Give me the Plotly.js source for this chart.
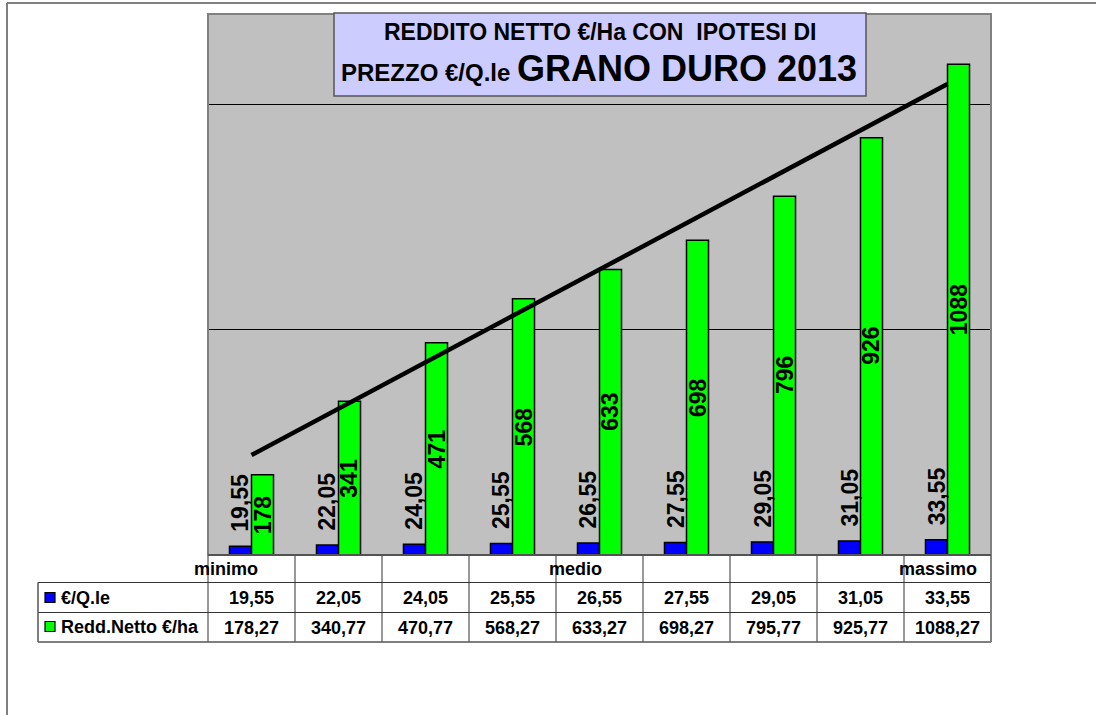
<!DOCTYPE html>
<html>
<head>
<meta charset="utf-8">
<script src="https://cdn.plot.ly/plotly-3.0.1.min.js"></script>
<style>html,body{margin:0;padding:0;background:#fff;}#chart{width:1096px;height:715px;}</style>
</head>
<body>
<div id="chart"></div>
<script>
// ---- data ----
const categories = ['minimo', '', '', '', 'medio', '', '', '', 'massimo'];
const prezzo = [19.55, 22.05, 24.05, 25.55, 26.55, 27.55, 29.05, 31.05, 33.55];
const reddito = [178.27, 340.77, 470.77, 568.27, 633.27, 698.27, 795.77, 925.77, 1088.27];
const seriesNames = ['€/Q.le', 'Redd.Netto €/ha'];
const titleLine1 = 'REDDITO NETTO €/Ha CON  IPOTESI DI';
const titleLine2a = 'PREZZO €/Q.le';
const titleLine2b = 'GRANO DURO 2013';

// ---- layout constants (pixels) ----
const W = 1096, H = 715;
const PL = 208, PR = 991, PT = 14, PB = 555;
const pw = PR - PL, ph = PB - PT;
const X = p => (p - PL) / pw;
const Y = p => (PB - p) / ph;
const FONT = 'Liberation Sans, Arial, sans-serif';
const catLabelShift = [-26, 0, 0, 0, -24, 0, 0, 0, -10];
const colW = pw / categories.length;

const idx = categories.map((c, i) => i);
const fmt2 = v => v.toFixed(2).replace('.', ',');

// linear trendline (least squares) on the net income series
const n = reddito.length;
const mx = idx.reduce((a, b) => a + b, 0) / n;
const my = reddito.reduce((a, b) => a + b, 0) / n;
let sxy = 0, sxx = 0;
idx.forEach((x, i) => { sxy += (x - mx) * (reddito[i] - my); sxx += (x - mx) * (x - mx); });
const slope = sxy / sxx;
const trend = idx.map(x => my + slope * (x - mx));

const traces = [
  {type: 'bar', x: idx, y: prezzo, name: seriesNames[0],
   marker: {color: '#0000FF', line: {color: '#000', width: 1.5}}, hoverinfo: 'none'},
  {type: 'bar', x: idx, y: reddito, name: seriesNames[1],
   marker: {color: '#00FF00', line: {color: '#000', width: 1.5}}, hoverinfo: 'none'},
  {type: 'scatter', mode: 'lines', x: idx, y: trend, line: {color: '#000', width: 4.5},
   hoverinfo: 'none', showlegend: false}
];

const shapes = [];
const annotations = [];
const line = (x0, y0, x1, y1, color, width) => shapes.push({type: 'line', xref: 'paper', yref: 'paper',
  x0: X(x0), y0: Y(y0), x1: X(x1), y1: Y(y1), line: {color: color, width: width}});

// outer frame
line(7, 3, W + 5, 3, '#808080', 2);
line(7, 3, 7, H + 5, '#808080', 2);

// table
const rowY = [PB, 582.5, 612.5, 642];
for (let k = 1; k < categories.length; k++) line(PL + k * colW, PB, PL + k * colW, rowY[3], '#333', 1);
line(PL, PB, PL, rowY[3], '#333', 1);
line(38, rowY[1], PR, rowY[1], '#333', 1);
line(38, rowY[2], PR, rowY[2], '#333', 1);
line(38, rowY[3], PR, rowY[3], '#555', 1.5);
line(38, rowY[1], 38, rowY[3], '#555', 1.5);
line(PR, PB, PR, rowY[3], '#808080', 2);

// plot border
shapes.push({type: 'rect', xref: 'paper', yref: 'paper', x0: 0, y0: 0, x1: 1, y1: 1,
  line: {color: '#808080', width: 2}});
line(PL, PB, PR, PB, '#444', 1.5);

// legend keys
const keyColors = ['#0000FF', '#00FF00'];
[597.5, 626.5].forEach((cy, i) => {
  shapes.push({type: 'rect', xref: 'paper', yref: 'paper', x0: X(45), x1: X(55), y0: Y(cy - 5), y1: Y(cy + 5),
    fillcolor: keyColors[i], line: {color: '#000', width: 1.2}});
  annotations.push({xref: 'paper', yref: 'paper', x: X(59), y: Y(cy), xanchor: 'left', yanchor: 'middle',
    text: '<b>' + seriesNames[i] + '</b>', showarrow: false, font: {family: FONT, size: 18, color: '#000'}});
});

// title box
shapes.push({type: 'rect', xref: 'paper', yref: 'paper', x0: X(334), x1: X(866), y0: Y(96), y1: Y(13),
  fillcolor: '#CCCCFF', line: {color: '#555', width: 1.5}});
annotations.push({xref: 'paper', yref: 'paper', x: X(600), y: Y(32), xanchor: 'center', yanchor: 'middle',
  text: '<b>' + titleLine1 + '</b>', showarrow: false, font: {family: FONT, size: 23, color: '#000'}});
annotations.push({xref: 'paper', yref: 'paper', x: X(599), y: Y(68), xanchor: 'center', yanchor: 'middle',
  text: '<b>' + titleLine2a + ' <span style="font-size:36px">' + titleLine2b + '</span></b>', showarrow: false,
  font: {family: FONT, size: 24, color: '#000'}});

// table texts
const cellFont = {family: FONT, size: 18, color: '#000'};
categories.forEach((c, i) => {
  if (c) annotations.push({xref: 'x', yref: 'paper', x: i, y: Y(569), xshift: catLabelShift[i],
    xanchor: 'center', yanchor: 'middle', text: '<b>' + c + '</b>', showarrow: false, font: cellFont});
  annotations.push({xref: 'x', yref: 'paper', x: i, y: Y(597.5), xanchor: 'center', yanchor: 'middle',
    text: '<b>' + fmt2(prezzo[i]) + '</b>', showarrow: false, font: cellFont});
  annotations.push({xref: 'x', yref: 'paper', x: i, y: Y(627.5), xanchor: 'center', yanchor: 'middle',
    text: '<b>' + fmt2(reddito[i]) + '</b>', showarrow: false, font: cellFont});
});

// data labels
const lblFont = {family: FONT, size: 23, color: '#000'};
idx.forEach(i => {
  annotations.push({xref: 'x', yref: 'y', x: i, y: prezzo[i], xshift: -11, yshift: 12,
    xanchor: 'center', yanchor: 'bottom', textangle: -90, text: '<b>' + fmt2(prezzo[i]) + '</b>',
    showarrow: false, font: lblFont});
  annotations.push({xref: 'x', yref: 'y', x: i, y: reddito[i] / 2, xshift: 11,
    xanchor: 'center', yanchor: 'middle', textangle: -90, text: '<b>' + Math.round(reddito[i]) + '</b>',
    showarrow: false, font: lblFont});
});

const layout = {
  width: W, height: H,
  margin: {l: PL, r: W - PR, t: PT, b: H - PB, pad: 0},
  paper_bgcolor: '#FFFFFF', plot_bgcolor: '#C0C0C0',
  showlegend: false, barmode: 'group', bargap: 0.494, bargroupgap: 0,
  font: {family: FONT},
  xaxis: {range: [-0.5, categories.length - 0.5], showticklabels: false, showgrid: false,
    zeroline: false, ticks: '', fixedrange: true},
  yaxis: {range: [0, 1200], tickvals: [0, 500, 1000], showticklabels: false, showgrid: true,
    gridcolor: '#000', gridwidth: 1, zeroline: false, ticks: '', fixedrange: true},
  shapes: shapes, annotations: annotations
};

Plotly.newPlot('chart', traces, layout, {staticPlot: true, displayModeBar: false});
</script>
</body>
</html>
